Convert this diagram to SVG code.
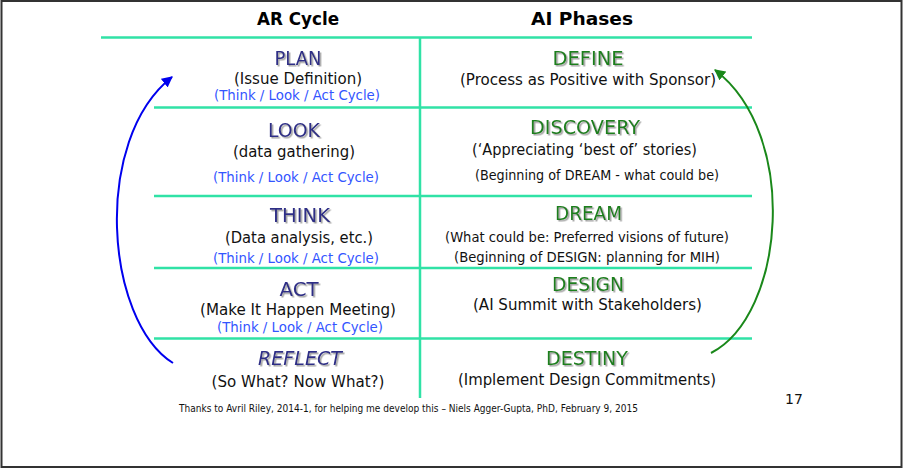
<svg xmlns="http://www.w3.org/2000/svg" width="903" height="469" viewBox="0 0 903 469">
<style>
text{font-family:"DejaVu Sans","Verdana",sans-serif;text-anchor:middle;}
.hdr{font-size:17.5px;font-weight:bold;fill:#000;}
.ar{font-size:20px;fill:#2e2e86;filter:url(#sh);}
.ai{font-size:20px;fill:#1f7f1f;filter:url(#sh);}
.sub{font-size:16px;fill:#111;}
.sm{font-size:14px;fill:#111;}
.tla{font-size:14px;fill:#3355ff;}
.grid{stroke:#30e2a6;stroke-width:2.5;fill:none;}
</style>
<defs>
<filter id="sh" x="-10%" y="-20%" width="130%" height="150%">
<feDropShadow dx="1.5" dy="1.5" stdDeviation="0.7" flood-color="#8a8a8a" flood-opacity="0.8"/>
</filter>
<marker id="ab" viewBox="0 0 10 10" refX="9" refY="5" markerWidth="5.5" markerHeight="5.5" orient="auto" markerUnits="strokeWidth">
<path d="M0,0 L10,5 L0,10 z" fill="#0000ee"/>
</marker>
<marker id="ag" viewBox="0 0 10 10" refX="9" refY="5" markerWidth="5.5" markerHeight="5.5" orient="auto" markerUnits="strokeWidth">
<path d="M0,0 L10,5 L0,10 z" fill="#1a881a"/>
</marker>
</defs>
<rect x="1.5" y="1" width="900" height="466" fill="#fff" stroke="#333" stroke-width="2"/>
<g id="grid" class="grid">
<line x1="101" y1="37.5" x2="752" y2="37.5"/>
<line x1="154" y1="107.5" x2="752" y2="107.5"/>
<line x1="154" y1="196" x2="752" y2="196"/>
<line x1="154" y1="268" x2="752" y2="268"/>
<line x1="154" y1="338.5" x2="752" y2="338.5"/>
<line x1="420" y1="37" x2="420" y2="398"/>
</g>
<g id="headers">
<text class="hdr" x="298" y="25" textLength="82" lengthAdjust="spacingAndGlyphs">AR Cycle</text>
<text class="hdr" x="582" y="25" textLength="102" lengthAdjust="spacingAndGlyphs">AI Phases</text>
</g>
<g id="plan">
<text class="ar" x="298" y="65" textLength="47" lengthAdjust="spacingAndGlyphs">PLAN</text>
<text class="sub" x="298" y="84" textLength="128" lengthAdjust="spacingAndGlyphs">(Issue Definition)</text>
<text class="tla" x="297" y="100" textLength="166" lengthAdjust="spacingAndGlyphs">(Think / Look / Act Cycle)</text>
</g>
<g id="look">
<text class="ar" x="294" y="137" textLength="52" lengthAdjust="spacingAndGlyphs">LOOK</text>
<text class="sub" x="294" y="157" textLength="122" lengthAdjust="spacingAndGlyphs">(data gathering)</text>
<text class="tla" x="296" y="182" textLength="166" lengthAdjust="spacingAndGlyphs">(Think / Look / Act Cycle)</text>
</g>
<g id="think">
<text class="ar" x="300" y="222" textLength="60" lengthAdjust="spacingAndGlyphs">THINK</text>
<text class="sub" x="299" y="243" textLength="148" lengthAdjust="spacingAndGlyphs">(Data analysis, etc.)</text>
<text class="tla" x="296" y="263" textLength="166" lengthAdjust="spacingAndGlyphs">(Think / Look / Act Cycle)</text>
</g>
<g id="act">
<text class="ar" x="299" y="296" textLength="39" lengthAdjust="spacingAndGlyphs">ACT</text>
<text class="sub" x="298" y="315" font-size="15.5" textLength="196" lengthAdjust="spacingAndGlyphs">(Make It Happen Meeting)</text>
<text class="tla" x="300" y="332" font-size="13.5" textLength="166" lengthAdjust="spacingAndGlyphs">(Think / Look / Act Cycle)</text>
</g>
<g id="reflect">
<text class="ar" x="300" y="365" font-style="italic" textLength="84" lengthAdjust="spacingAndGlyphs">REFLECT</text>
<text class="sub" x="298" y="387" textLength="173" lengthAdjust="spacingAndGlyphs">(So What? Now What?)</text>
</g>
<g id="define">
<text class="ai" x="588" y="65" textLength="71" lengthAdjust="spacingAndGlyphs">DEFINE</text>
<text class="sub" x="588" y="85" textLength="256" lengthAdjust="spacingAndGlyphs">(Process as Positive with Sponsor)</text>
</g>
<g id="discovery">
<text class="ai" x="585" y="134" textLength="110" lengthAdjust="spacingAndGlyphs">DISCOVERY</text>
<text class="sub" x="584.5" y="155" textLength="225" lengthAdjust="spacingAndGlyphs">(‘Appreciating ‘best of’ stories)</text>
<text class="sm" x="597" y="180" textLength="244" lengthAdjust="spacingAndGlyphs">(Beginning of DREAM - what could be)</text>
</g>
<g id="dream">
<text class="ai" x="588.5" y="220" textLength="67" lengthAdjust="spacingAndGlyphs">DREAM</text>
<text class="sm" x="587" y="242" font-size="14.5" textLength="284" lengthAdjust="spacingAndGlyphs">(What could be: Preferred visions of future)</text>
<text class="sm" x="587" y="262" textLength="266" lengthAdjust="spacingAndGlyphs">(Beginning of DESIGN: planning for MIH)</text>
</g>
<g id="design">
<text class="ai" x="588" y="291" textLength="72" lengthAdjust="spacingAndGlyphs">DESIGN</text>
<text class="sub" x="587.5" y="310" textLength="229" lengthAdjust="spacingAndGlyphs">(AI Summit with Stakeholders)</text>
</g>
<g id="destiny">
<text class="ai" x="587" y="365" textLength="82" lengthAdjust="spacingAndGlyphs">DESTINY</text>
<text class="sub" x="587" y="385" textLength="258" lengthAdjust="spacingAndGlyphs">(Implement Design Commitments)</text>
</g>
<g id="connectors">
<path d="M173,363 C105,320 92,140 172,77" fill="none" stroke="#0000ee" stroke-width="2" marker-end="url(#ab)"/>
<path d="M711,353 C785,315 800,135 715,70" fill="none" stroke="#1a881a" stroke-width="2" marker-end="url(#ag)"/>
</g>
<g id="footer">
<text x="794" y="404" font-size="14" fill="#111">17</text>
<text x="408.5" y="412" font-size="11" fill="#111" textLength="459" lengthAdjust="spacingAndGlyphs">Thanks to Avril Riley, 2014-1, for helping me develop this – Niels Agger-Gupta, PhD, February 9, 2015</text>
</g>
</svg>
